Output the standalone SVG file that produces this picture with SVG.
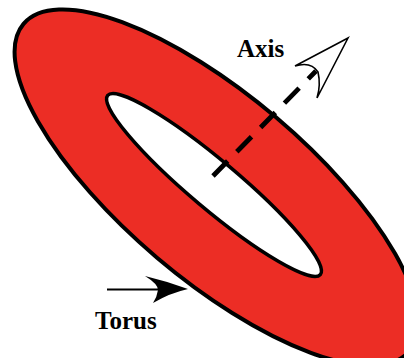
<svg xmlns="http://www.w3.org/2000/svg" width="404" height="358" viewBox="0 0 404 358">
  <style>
    .lbl { font-family: "Liberation Serif", "Times New Roman", serif; font-weight: bold; font-size: 25px; fill: #000; }
    .ring { fill: #ec2d25; stroke: #000; stroke-width: 4; }
    .hole { fill: #fff; stroke: #000; stroke-width: 3.5; }
  </style>
  <rect width="404" height="358" fill="#fff"/>
  <g id="torus">
    <ellipse class="ring" cx="216.5" cy="187.5" rx="253" ry="92" transform="rotate(40.3 216.5 187.5)"/>
    <ellipse class="hole" cx="214" cy="185" rx="139" ry="24" transform="rotate(40.1 214 185)"/>
  </g>
  <g id="connectors">
    <g id="axis-arrow">
      <line x1="213" y1="176" x2="316" y2="71" stroke="#000" stroke-width="4.8" stroke-dasharray="21 13"/>
      <path d="M348,38 L295,66 Q311,61 318,72 Q321,85 317,98 Z" fill="#fff" stroke="#000" stroke-width="1.6" stroke-linejoin="miter"/>
    </g>
    <g id="torus-arrow">
      <line x1="107" y1="289.5" x2="160" y2="289.5" stroke="#000" stroke-width="2.2"/>
      <path d="M188,289 Q166,281 145,276 Q158,284 158,290 Q157,297 153,303 Q170,293 188,289 Z" fill="#000"/>
    </g>
  </g>
  <g id="axis-label">
    <text class="lbl" x="237" y="56.5">Axis</text>
  </g>
  <g id="torus-label">
    <text class="lbl" x="95" y="329">Torus</text>
  </g>
</svg>
